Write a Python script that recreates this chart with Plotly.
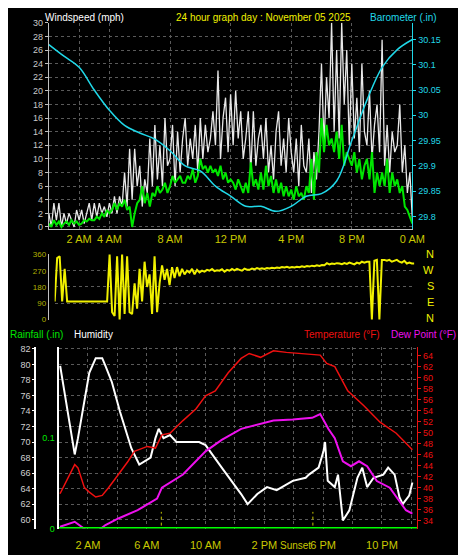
import plotly.graph_objects as go

# ---- wind (10 minute samples, 0..24 h) ----
gust = [2,0,3.5,1,3.5,0, 2,0.5,2,1,0,2.5, 1,2.5,0.5,2,3.5,1, 3.5,1.5,3.5,2,3,1.5,
        3.5,2,4.5,2,4.5,3, 8,3,11.5,4,11.5,6, 9,3,7,5,13,6, 15,7,12,6,16,9,
        10,15,6,14,8,13, 16,9,13,10,15,8, 16,10,15,11,13,17, 12,23,10,16,19,11,
        19.5,12,20,13,17,10, 13,17,8,17,9,13, 15,10,16,8,12,7, 14,17,9,13,8,16,
        11,8,13,6,15,9, 8,13,5,11,7,14, 24,12,22,16,30,14, 26,13,30,18,26,12,
        24,13,19,11,24,14, 12,20,10,15,18,11, 27.5,9,15,8,14,11, 12,18,8,12,5,8, 1]
avg = [0.5,0,1,0.3,0.8,0, 0.5,0.8,0.3,1,0.5,0.8, 0.3,0.5,1,0.8,1.2,1, 1,1.5,1.2,2,1.5,2.5,
       2,2.5,3.5,2.5,3.5,3, 4,2.5,3,0,2,3.5, 4,6,3.5,5,3,5, 4.5,6,5,5.5,6.5,5,
       6,7.5,6.5,7,7.5,6.5, 6.5,7.5,7,8.5,6.5,7.5, 10,8.5,9,8,9,8, 8.5,7.5,9,7,8,6.5,
       7,6.5,5.5,7,6,5, 6.5,5,9.5,6,7,5.5, 8,5.5,9,6,7.5,5, 7,5,6.5,4.5,6,4.5,
       5.5,4,6,4.5,5,4, 6,5,10,4,11,8, 16,11,15,12,13,11, 14,10,15,9,11,10,
       9,11,8,10,7,9, 10,7,11,5,8,6, 8,6,10,5,8,6, 7,5,6,3,2.5,1.5, 0.5]
wdir = [100,340,350,100,280,100, 100,100,100,100,100,100, 100,100,100,100,100,100,
        100,100,100,100,360,40, 20,350,0,360,30,350, 40,30,200,60,280,100,
        320,180,250,30,350,40, 200,300,220,280,190,290, 230,290,240,280,250,270,
        260,280,250,275,260,270, 265,275,270,280,268,272, 270,278,265,275,270,280,
        272,280,275,270,282,276, 275,282,278,285,280,283, 280,285,282,286,284,288,
        285,290,288,292,287,290, 288,292,290,295,291,296, 293,298,295,300,297,302,
        300,312,305,310,308,312, 310,306,312,308,315,312, 305,315,310,320,315,320,
        320,0,325,330,0,330, 330,325,330,320,325,330, 320,315,325,310,315,310, 310]
t10 = [i / 6 for i in range(len(gust))]

baro_h = list(range(25))
baro = [30.14,30.117,30.095,30.05,30.01,29.98,29.965,29.953,29.93,29.90,29.89,29.86,29.84,
        29.82,29.82,29.81,29.82,29.84,29.845,29.87,29.95,30.03,30.095,30.13,30.15]

# ---- temperature / humidity ----
hum_h = [0.11,0.66,1.1,1.32,1.76,2.09,2.53,2.97,3.19,3.63,4.18,4.95,5.49,6.26,6.59,6.81,7.14,
         7.58,8.02,9.56,10.0,10.44,11.1,11.76,12.42,12.86,13.52,14.18,14.84,15.93,16.81,17.03,
         17.69,18.02,18.13,18.31,18.79,19.01,19.23,19.34,19.78,20.33,20.66,20.99,21.43,22.09,
         22.42,22.86,23.19,23.41,23.85,24.07]
hum = [79.8,73.4,68.4,70.5,75.1,78.9,80.8,80.8,79.8,77.7,73.9,69.2,67.1,68,70.5,71.7,70.5,
       70.9,70,70,69.6,68.4,66.7,65,63.3,62,63.3,64.2,63.8,65,65.4,65.8,66.7,68.8,70,65,64.2,
       65.8,61.6,59.9,61.2,65.4,66.7,64.2,65.4,65.8,66.7,65.8,62.9,62,63.1,64.8]
temp_h = [0.1,0.66,1.1,1.32,1.76,2.09,2.53,2.97,3.4,4.07,4.73,5.16,6.04,6.59,7.03,7.58,8.46,
          9.34,10,10.66,11.54,12.42,12.97,13.74,14.62,15.5,17.25,17.8,18.24,18.79,19.67,20.77,
          21.87,22.97,24.07]
temp = [38.9,41.8,44.2,43.6,40,39.2,38.3,38.6,40,42.4,44.8,46.6,47.5,47.2,49.6,49.9,52.2,
        54.3,56.7,57.6,60.9,63.5,64.4,63.7,64.9,64.6,64.2,64.1,62.6,62,57.6,54.9,51.9,49.9,46.9]
dew_h = [0.1,1.1,1.87,2.75,3.19,4.07,5.38,6.7,7.03,8.46,10,11.1,12.42,13.74,14.62,15.93,17.25,
         17.8,18.35,18.79,19.34,19.89,20.44,20.99,21.65,22.53,23.63,24.07]
dew = [32.9,33.8,32.3,32.3,33.2,34.4,35.9,38,40,42.4,46.6,48.7,50.7,51.6,52.2,52.4,52.7,53.4,
       50.7,49,44.8,43.9,44.8,43.9,41.2,40,35.9,35.3]
rain_h = [0, 24.4]
rain = [0, 0]
sunrise, sunset = 6.99, 17.3

top_ticks = [2, 4, 8, 12, 16, 20, 24]
top_labels = ["2 AM", "4 AM", "8 AM", "12 PM", "4 PM", "8 PM", "0 AM"]
bot_ticks = [2, 6, 10, 14, 18, 22]
bot_labels = ["2 AM", "6 AM", "10 AM", "2 PM", "6 PM", "10 PM"]

H = 555
def dom(top, bottom):
    return [1 - bottom / H, 1 - top / H]

FONT = "Liberation Sans"
GRID = dict(showgrid=True, gridcolor="#5a5a5a", griddash="dot", gridwidth=1, zeroline=False)
YEL = "#c8c800"

fig = go.Figure()
fig.add_trace(go.Scatter(x=t10, y=gust, mode="lines", line=dict(color="#e8e8e8", width=1.3)))
fig.add_trace(go.Scatter(x=t10, y=avg, mode="lines", line=dict(color="#00e600", width=2)))
fig.add_trace(go.Scatter(x=baro_h, y=baro, mode="lines", line=dict(color="#20d8e8", width=1.5, shape="spline"), yaxis="y2"))
fig.add_trace(go.Scatter(x=t10, y=wdir, mode="lines", line=dict(color="#f0f000", width=2), xaxis="x2", yaxis="y3"))
fig.add_trace(go.Scatter(x=rain_h, y=rain, mode="lines", line=dict(color="#00ff00", width=3), xaxis="x3", yaxis="y6"))
fig.add_trace(go.Scatter(x=hum_h, y=hum, mode="lines", line=dict(color="white", width=2), xaxis="x3", yaxis="y4"))
fig.add_trace(go.Scatter(x=temp_h, y=temp, mode="lines", line=dict(color="#ee1010", width=1.5), xaxis="x3", yaxis="y5"))
fig.add_trace(go.Scatter(x=dew_h, y=dew, mode="lines", line=dict(color="#ee10ee", width=2), xaxis="x3", yaxis="y5"))
for s in (sunrise, sunset):
    fig.add_trace(go.Scatter(x=[s, s], y=[33.1, 35.6], mode="lines", line=dict(color=YEL, width=1, dash="dot"), xaxis="x3", yaxis="y5"))

tick_font = dict(family=FONT, size=9)
fig.update_layout(
    width=466, height=555, paper_bgcolor="black", plot_bgcolor="black",
    margin=dict(l=0, r=0, t=0, b=0), showlegend=False,
    font=dict(family=FONT, size=11, color="white"),
    xaxis=dict(domain=[42/466, 416/466], range=[0, 24], tickvals=top_ticks, ticktext=top_labels,
               tickfont=dict(family=FONT, size=11, color=YEL), anchor="y", showline=True,
               linecolor="#c0c0c0", ticks="", **GRID),
    yaxis=dict(domain=dom(10, 220), range=[-0.3, 30], dtick=2, tickfont=dict(color="#c8c8c8", **tick_font),
               showline=True, linecolor="#c0c0c0", ticks="outside", ticklen=3, tickcolor="#c0c0c0", **GRID),
    yaxis2=dict(overlaying="y", side="right", range=[29.775, 30.183], tickvals=[29.8,29.85,29.9,29.95,30,30.05,30.1,30.15],
                ticktext=["29.8","29.85","29.9","29.95","30","30.05","30.1","30.15"],
                tickfont=dict(color="#20d8e8", **tick_font), showline=True, linecolor="#20d8e8",
                ticks="outside", ticklen=3, tickcolor="#20d8e8", showgrid=False, zeroline=False),
    xaxis2=dict(domain=[48/466, 418/466], range=[0, 24], anchor="y3", showticklabels=False,
                showline=False, showgrid=False, zeroline=False),
    yaxis3=dict(domain=dom(245, 313), range=[-5, 365], tickvals=[0, 90, 180, 270, 360],
                tickfont=dict(color="#b0b000", family=FONT, size=8), showline=True, linecolor="#c0c0c0",
                **GRID),
    xaxis3=dict(domain=[52/466, 421/466], range=[0, 24.4], anchor="y4", tickvals=bot_ticks, ticktext=bot_labels,
                tickfont=dict(family=FONT, size=11, color=YEL), ticks="outside", ticklen=6, tickcolor="black",
                showline=False, minor=dict(dtick=2, showgrid=True, gridcolor="#5a5a5a", griddash="dot"), **GRID),
    yaxis4=dict(domain=dom(340, 525), range=[58.86, 82.25], dtick=2, anchor="free", position=28/466,
                tickfont=dict(color="#d0d0d0", **tick_font), showline=True, linecolor="white", linewidth=2,
                ticks="outside", ticklen=2, tickcolor="white", **GRID),
    yaxis5=dict(overlaying="y4", side="right", anchor="x3", range=[32.57, 65.6], dtick=2,
                tickfont=dict(color="#ee1010", **tick_font), showline=True, linecolor="#ee1010",
                ticks="outside", ticklen=3, tickcolor="#ee1010", showgrid=False, zeroline=False),
    yaxis6=dict(overlaying="y4", side="left", anchor="x3", range=[0, 0.2], tickvals=[0, 0.1],
                tickfont=dict(color="#00e600", **tick_font), showline=True, linecolor="white", linewidth=2,
                ticks="", showgrid=False, zeroline=False),
)

ann = [
    (36, 5, "Windspeed (mph)", "white", "left"),
    (263, 5, "24 hour graph day : November 05 2025", "#f0f000", "center"),
    (443, 5, "Barometer (.in)", "#20d8e8", "right"),
    (0, 327, "Rainfall (.in)", "#00e600", "left"),
    (66, 327, "Humidity", "white", "left"),
    (385, 327, "Temperature (°F)", "#ee1010", "right"),
    (463, 327, "Dew Point (°F)", "#ee10ee", "right"),
    (296, 542, "Sunset", YEL, "center"),
]
for x, y, t, c, a in ann:
    fig.add_annotation(x=x/466, y=1 - y/H, xref="paper", yref="paper", text=t, showarrow=False,
                       xanchor=a, yanchor="middle", font=dict(family=FONT, size=10, color=c))
for i, lab in enumerate(["N", "W", "S", "E", "N"]):
    fig.add_annotation(x=440/466, y=1 - (245 + i * 16.5)/H, xref="paper", yref="paper", text=lab,
                       showarrow=False, font=dict(family=FONT, size=11, color="#f0f000"))

fig.write_html("out.html")
